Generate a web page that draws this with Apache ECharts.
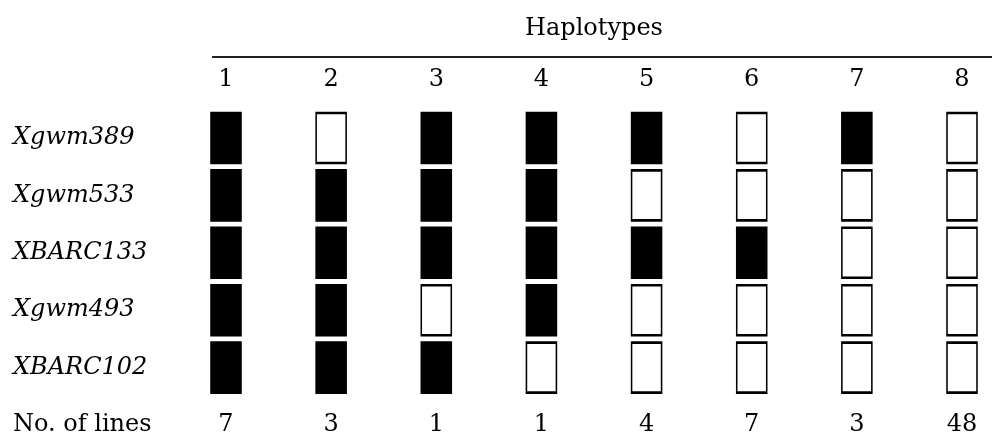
<!DOCTYPE html>
<html>
<head>
<meta charset="utf-8">
<script src="https://cdn.jsdelivr.net/npm/echarts@6/dist/echarts.min.js"></script>
<style>
  html, body { margin: 0; padding: 0; background: #fff; }
  #chart { width: 992px; height: 438px; }
</style>
</head>
<body>
<div id="chart"></div>
<script>
// haplotype columns and marker rows
const haplotypes = ['1', '2', '3', '4', '5', '6', '7', '8'];
const markers = ['Xgwm389', 'Xgwm533', 'XBARC133', 'Xgwm493', 'XBARC102'];
const countLabel = 'No. of lines';

// 1 = filled (black) box, 0 = open box
const xgwm389 = [1, 0, 1, 1, 1, 0, 1, 0];
const xgwm533 = [1, 1, 1, 1, 0, 0, 0, 0];
const xbarc133 = [1, 1, 1, 1, 1, 1, 0, 0];
const xgwm493 = [1, 1, 0, 1, 0, 0, 0, 0];
const xbarc102 = [1, 1, 1, 0, 0, 0, 0, 0];
const noOfLines = [7, 3, 1, 1, 4, 7, 3, 48];

const rows = [xgwm389, xgwm533, xbarc133, xgwm493, xbarc102];
const font = 'DejaVu Serif';

const chart = echarts.init(document.getElementById('chart'));

// build box cells
const boxData = [];
rows.forEach((row, r) => {
  row.forEach((v, c) => {
    boxData.push({
      value: [c, r, v],
      itemStyle: { color: v ? '#000' : '#fff' }
    });
  });
});

const countData = noOfLines.map((n, c) => [c, markers.length, n]);

const option = {
  backgroundColor: '#fff',
  animation: false,
  grid: { left: 226, right: 30, top: 138, bottom: 13 },
  xAxis: {
    type: 'category',
    position: 'top',
    data: haplotypes,
    boundaryGap: false,
    name: 'Haplotypes',
    nameLocation: 'middle',
    nameGap: 97,
    nameTextStyle: { fontFamily: font, fontSize: 24, color: '#000' },
    axisLine: { show: false },
    axisTick: { show: false },
    splitLine: { show: false },
    axisLabel: { margin: 46, fontFamily: font, fontSize: 24, color: '#000' }
  },
  yAxis: {
    type: 'category',
    data: markers.concat([countLabel]),
    inverse: true,
    boundaryGap: false,
    axisLine: { show: false },
    axisTick: { show: false },
    splitLine: { show: false },
    axisLabel: {
      align: 'left',
      margin: 213,
      formatter: v => (v === countLabel ? '{n|' + v + '}' : '{i|' + v + '}'),
      rich: {
        i: { fontFamily: font, fontStyle: 'italic', fontSize: 24, color: '#000' },
        n: { fontFamily: font, fontSize: 24, color: '#000' }
      }
    }
  },
  graphic: [{
    type: 'line',
    shape: { x1: 212, y1: 57, x2: 992, y2: 57 },
    style: { stroke: '#222', lineWidth: 2 }
  }],
  series: [
    {
      type: 'scatter',
      symbol: 'rect',
      symbolSize: [30, 50],
      itemStyle: { borderColor: '#000', borderWidth: 2, opacity: 1 },
      data: boxData
    },
    {
      type: 'scatter',
      symbolSize: 0,
      itemStyle: { opacity: 1 },
      data: countData,
      label: {
        show: true,
        position: 'inside',
        formatter: p => String(p.value[2]),
        fontFamily: font,
        fontSize: 24,
        color: '#000',
        textBorderWidth: 0
      }
    }
  ]
};

chart.setOption(option);
window.addEventListener('resize', () => chart.resize());
</script>
</body>
</html>
